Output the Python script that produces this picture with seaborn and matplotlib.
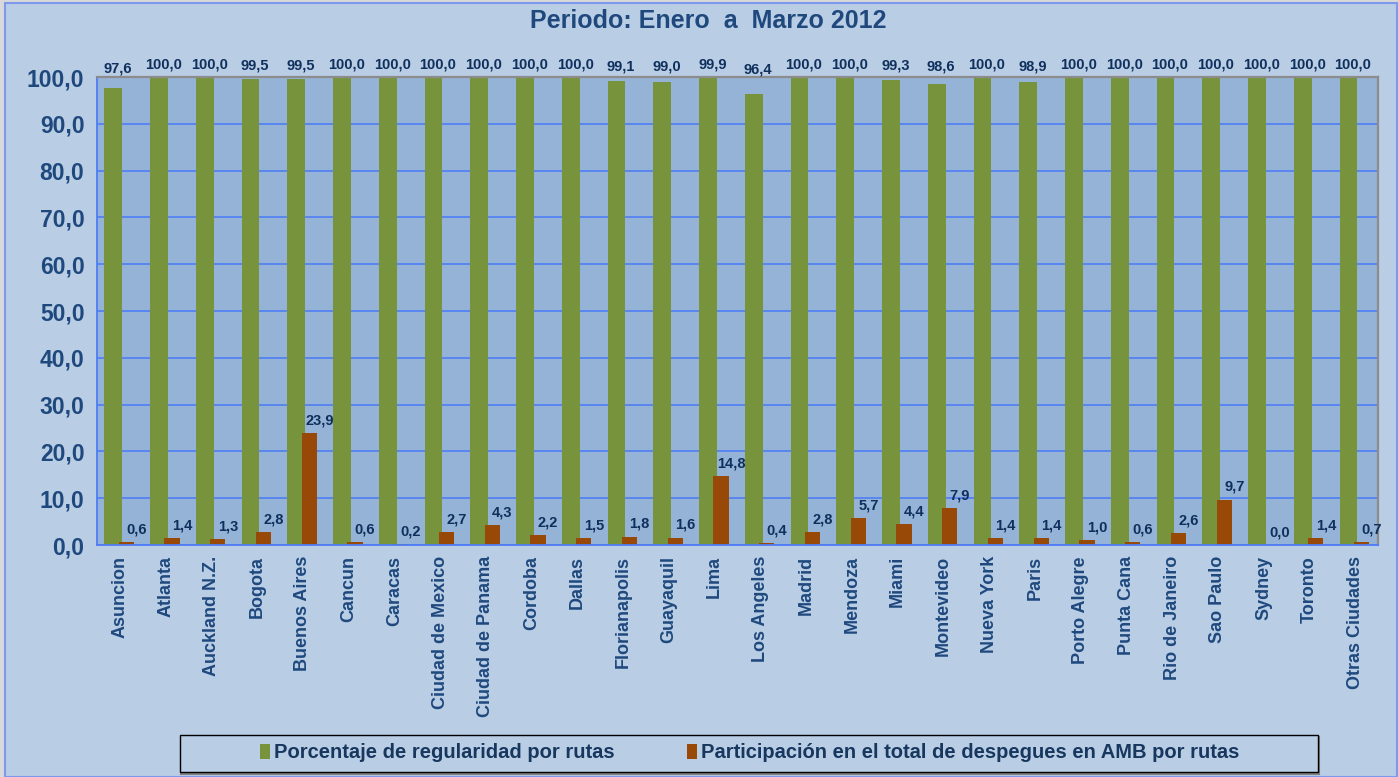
import numpy as np
import pandas as pd
import matplotlib
matplotlib.use("Agg")
import matplotlib.pyplot as plt
import seaborn as sns
from matplotlib.patches import Patch, Rectangle

# ---------------- data ----------------
ciudades = ["Asuncion", "Atlanta", "Auckland N.Z.", "Bogota", "Buenos Aires", "Cancun",
            "Caracas", "Ciudad de Mexico", "Ciudad de Panama", "Cordoba", "Dallas",
            "Florianapolis", "Guayaquil", "Lima", "Los Angeles", "Madrid", "Mendoza",
            "Miami", "Montevideo", "Nueva York", "Paris", "Porto Alegre", "Punta Cana",
            "Rio de Janeiro", "Sao Paulo", "Sydney", "Toronto", "Otras Ciudades"]
regularidad = [97.6, 100.0, 100.0, 99.5, 99.5, 100.0, 100.0, 100.0, 100.0, 100.0, 100.0,
               99.1, 99.0, 99.9, 96.4, 100.0, 100.0, 99.3, 98.6, 100.0, 98.9, 100.0,
               100.0, 100.0, 100.0, 100.0, 100.0, 100.0]
participacion = [0.6, 1.4, 1.3, 2.8, 23.9, 0.6, 0.2, 2.7, 4.3, 2.2, 1.5, 1.8, 1.6, 14.8,
                 0.4, 2.8, 5.7, 4.4, 7.9, 1.4, 1.4, 1.0, 0.6, 2.6, 9.7, 0.0, 1.4, 0.7]
serie_regularidad = "Porcentaje de regularidad por rutas"
serie_participacion = "Participación en el total de despegues en AMB por rutas"
titulo = "Periodo: Enero  a  Marzo 2012"
y_ticks = [0, 10, 20, 30, 40, 50, 60, 70, 80, 90, 100]

# ---------------- style ----------------
W, H = 1398, 777
BG = "#B9CDE5"
PLOT_BG = "#95B3D7"
GREEN = "#77933C"
ORANGE = "#984807"
GRID = "#4F7DF5"
TICK_COL = "#1F497D"
LABEL_COL = "#0F2F5C"

sns.set_style("white")
plt.rcParams["font.family"] = ["Liberation Sans", "DejaVu Sans"]

n = len(ciudades)
df = pd.DataFrame({
    "ciudad": ciudades * 2,
    "valor": regularidad + participacion,
    "serie": [serie_regularidad] * n + [serie_participacion] * n,
})

fig = plt.figure(figsize=(W / 100, H / 100), dpi=100)
fig.patch.set_facecolor("#D9D9D9")
fig.add_artist(Rectangle((5 / W, 0.5 / H), (W - 6) / W, (H - 3) / H, transform=fig.transFigure,
                         facecolor=BG, edgecolor="#7D99EE", lw=1.5, zorder=-10))

ax = fig.add_axes([97 / W, 1 - 545 / H, 1281 / W, 468 / H])
ax.set_facecolor(PLOT_BG)

sns.barplot(data=df, x="ciudad", y="valor", hue="serie",
            hue_order=[serie_regularidad, serie_participacion],
            palette=[GREEN, ORANGE], saturation=1, width=0.72, dodge=True,
            errorbar=None, legend=False, ax=ax)

# adjust bar geometry (Excel style overlap)
geom = [(-0.145, 0.39), (0.14, 0.33)]
for cont, (off, w) in zip(ax.containers, geom):
    for bar in cont:
        c = bar.get_x() + bar.get_width() / 2
        i = round(c)
        bar.set_x(i + off - w / 2)
        bar.set_width(w)
        bar.set_edgecolor("none")

ax.set_xlim(-0.5, n - 0.5)
ax.set_ylim(0, 100)
ax.set_xlabel("")
ax.set_ylabel("")

ax.set_axisbelow(True)
ax.yaxis.grid(True, color=GRID, lw=1.2)
ax.xaxis.grid(False)

for s in ["left", "bottom"]:
    ax.spines[s].set_color(GRID)
    ax.spines[s].set_linewidth(1.3)
for s in ["top", "right"]:
    ax.spines[s].set_color("#8C8C8C")
    ax.spines[s].set_linewidth(1.6)

ax.set_xticks(range(n))
ax.set_xticklabels(ciudades, rotation=90, fontsize=13, fontweight="bold", color=TICK_COL)
ax.set_xticks(np.arange(n + 1) - 0.5, minor=True)
ax.tick_params(axis="x", which="major", length=0, pad=8)
ax.tick_params(axis="x", which="minor", length=6, width=1.2, color=GRID, direction="out")

ax.set_yticks(y_ticks)
ax.set_yticklabels([f"{v:.1f}".replace(".", ",") for v in y_ticks],
                   fontsize=16.5, fontweight="bold", color=TICK_COL)
ax.tick_params(axis="y", which="major", length=6, width=1.2, color=GRID, direction="out", pad=3)

# data labels
for i, v in enumerate(regularidad):
    y = v + (100 - v) * 0.7 + 1.1
    ax.text(i - 0.05, y, f"{v:.1f}".replace(".", ","), ha="center", va="bottom",
            fontsize=10.5, fontweight="bold", color=LABEL_COL, clip_on=False)
for i, v in enumerate(participacion):
    ax.text(i + 0.36, v + 1.2, f"{v:.1f}".replace(".", ","), ha="center", va="bottom",
            fontsize=10.5, fontweight="bold", color=LABEL_COL, clip_on=False)

# title
fig.text(708 / W, 1 - 21 / H, titulo, ha="center", va="center", fontsize=18,
         fontweight="bold", color=TICK_COL)

# legend box
fig.add_artist(Rectangle((181 / W, 1 - 774 / H), 1138 / W, 37 / H, transform=fig.transFigure,
                         facecolor="none", edgecolor="#7F7F7F", lw=1.5, zorder=4))
fig.add_artist(Rectangle((180 / W, 1 - 772 / H), 1138 / W, 37 / H, transform=fig.transFigure,
                         facecolor=BG, edgecolor="black", lw=1.0, zorder=5))
handles = [Patch(facecolor=GREEN, edgecolor="none"), Patch(facecolor=ORANGE, edgecolor="none")]
leg = fig.legend(handles, [serie_regularidad, serie_participacion], loc="center",
                 bbox_to_anchor=(750 / W, 1 - 753 / H), ncol=2, frameon=False,
                 prop={"weight": "bold", "size": 14.5}, labelcolor="#17375E",
                 columnspacing=3.6, handlelength=0.5, handleheight=0.8, handletextpad=0.2)
leg.set_zorder(6)

fig.savefig("out.png", dpi=100, facecolor=fig.get_facecolor())
